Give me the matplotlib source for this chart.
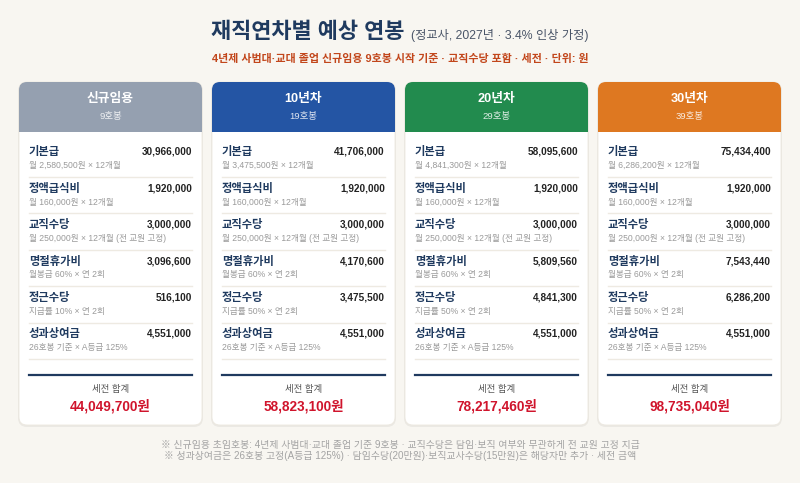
import matplotlib
matplotlib.use('Agg')
import matplotlib.pyplot as plt
from matplotlib.patches import FancyBboxPatch, Rectangle

# ---- data ----
groups = ['신규임용', '10년차', '20년차', '30년차']
steps = ['9호봉', '19호봉', '29호봉', '39호봉']
head_colors = ['#95a0b0', '#2455a4', '#228b4e', '#de7821']

items = ['기본급', '정액급식비', '교직수당', '명절휴가비', '정근수당', '성과상여금']
monthly_pay = [2580500, 3475500, 4841300, 6286200]
base_pay = [30966000, 41706000, 58095600, 75434400]
meal_pay = [1920000, 1920000, 1920000, 1920000]
teach_pay = [3000000, 3000000, 3000000, 3000000]
holiday_pay = [3096600, 4170600, 5809560, 7543440]
service_pay = [516100, 3475500, 4841300, 6286200]
service_rate = [10, 50, 50, 50]
bonus_pay = [4551000, 4551000, 4551000, 4551000]

title = '재직연차별 예상 연봉'
title_note = '(정교사, 2027년 · 3.4% 인상 가정)'
subtitle = '4년제 사범대·교대 졸업 신규임용 9호봉 시작 기준 · 교직수당 포함 · 세전 · 단위: 원'
notes = ['※ 신규임용 초임호봉: 4년제 사범대·교대 졸업 기준 9호봉 · 교직수당은 담임·보직 여부와 무관하게 전 교원 고정 지급',
         '※ 성과상여금은 26호봉 고정(A등급 125%) · 담임수당(20만원)·보직교사수당(15만원)은 해당자만 추가 · 세전 금액']

# latin glyphs (digits, middle dot) from Liberation, hangul falls to Noto CJK
FAM = ['Liberation Sans', 'Noto Sans CJK KR', 'DejaVu Sans']
NAVY = '#1f3a5f'
BG = '#f8f6f1'

fig = plt.figure(figsize=(8, 4.83), dpi=100)
fig.patch.set_facecolor(BG)
ax = fig.add_axes([0, 0, 1, 1])
ax.set_xlim(0, 800)
ax.set_ylim(483, 0)
ax.axis('off')

# title: two parts, centred together
t1 = ax.text(0, 33, title, fontsize=15.8, fontweight='bold', color=NAVY,
             family=FAM, ha='left', va='center')
t2 = ax.text(0, 35, title_note, fontsize=8.8, color='#4a5568',
             family=FAM, ha='left', va='center')
fig.canvas.draw()
r = fig.canvas.get_renderer()
w1 = t1.get_window_extent(r).width
w2 = t2.get_window_extent(r).width
gap = 7
x0 = 400 - (w1 + gap + w2) / 2
t1.set_x(x0)
t2.set_x(x0 + w1 + gap)

ax.text(400, 59, subtitle, fontsize=7.9, fontweight='bold', color='#c2461b',
        family=FAM, ha='center', va='center')

card_w = 183
pitch = 193
top, head_bot, bottom = 82, 132, 425

for i in range(4):
    left = 19 + i * pitch
    right = left + card_w
    # shadow + card body
    ax.add_patch(FancyBboxPatch((left - 1, top), card_w + 2, bottom - top + 2,
                                boxstyle='round,pad=0,rounding_size=9',
                                fc='#000000', ec='none', alpha=0.05))
    ax.add_patch(FancyBboxPatch((left, top), card_w, bottom - top,
                                boxstyle='round,pad=0,rounding_size=8',
                                fc='white', ec='#ece8df', lw=0.6))
    # header
    ax.add_patch(FancyBboxPatch((left, top), card_w, head_bot - top,
                                boxstyle='round,pad=0,rounding_size=8',
                                fc=head_colors[i], ec='none'))
    ax.add_patch(Rectangle((left, head_bot - 12), card_w, 12,
                           fc=head_colors[i], ec='none'))
    cx = left + card_w / 2
    ax.text(cx, 99, groups[i], fontsize=9.2, fontweight='bold', color='white',
            family=FAM, ha='center', va='center')
    ax.text(cx, 117, steps[i], fontsize=6.8, color='white', alpha=0.85,
            family=FAM, ha='center', va='center')

    values = [base_pay[i], meal_pay[i], teach_pay[i], holiday_pay[i],
              service_pay[i], bonus_pay[i]]
    subs = ['월 {:,}원 × 12개월'.format(monthly_pay[i]),
            '월 160,000원 × 12개월',
            '월 250,000원 × 12개월 (전 교원 고정)',
            '월봉급 60% × 연 2회',
            '지급률 {}% × 연 2회'.format(service_rate[i]),
            '26호봉 기준 × A등급 125%']

    lx, rx = left + 10, right - 10
    for j, (name, val, sub) in enumerate(zip(items, values, subs)):
        y0 = 141 + j * 36.4
        ax.text(lx, y0 + 11, name, fontsize=8.1, fontweight='bold', color=NAVY,
                family=FAM, ha='left', va='center')
        ax.text(rx, y0 + 11, '{:,}'.format(val), fontsize=7.2, fontweight='bold',
                color='#222222', family=FAM, ha='right', va='center')
        ax.text(lx, y0 + 24.5, sub, fontsize=6.2, color='#9a9a9a',
                family=FAM, ha='left', va='center')
        ax.plot([lx, rx], [y0 + 36, y0 + 36], color='#eeeae2', lw=1.0)

    ax.plot([lx, rx], [375, 375], color=NAVY, lw=1.6)
    ax.text(cx, 389, '세전 합계', fontsize=6.8, color='#555555',
            family=FAM, ha='center', va='center')
    ax.text(cx, 406, '{:,}원'.format(sum(values)), fontsize=9.8,
            fontweight='bold', color='#d0142c', family=FAM,
            ha='center', va='center')

ax.text(400, 445, notes[0], fontsize=7.1, color='#a3a3a3', family=FAM,
        ha='center', va='center')
ax.text(400, 456, notes[1], fontsize=7.1, color='#a3a3a3', family=FAM,
        ha='center', va='center')

fig.savefig('out.png', dpi=100, facecolor=BG)
